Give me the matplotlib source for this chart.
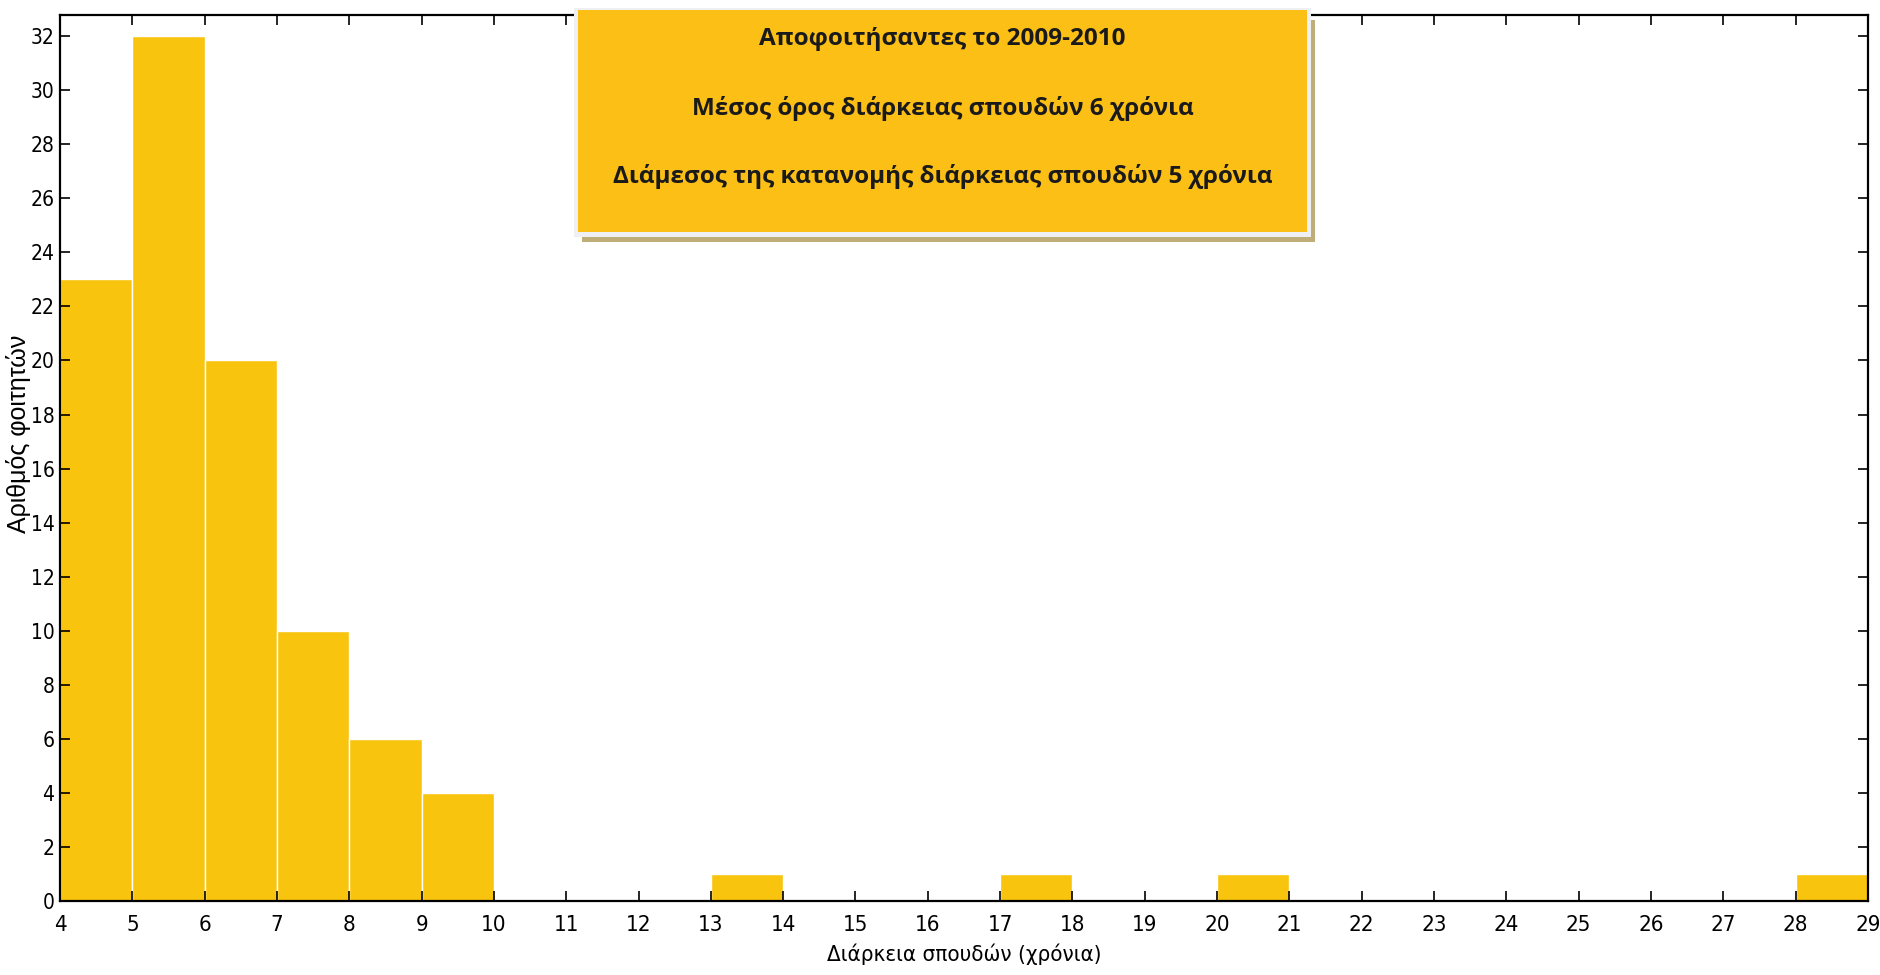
#!/usr/bin/env python3
import matplotlib
matplotlib.use("Agg")
import matplotlib.pyplot as plt
from matplotlib.patches import Rectangle
from matplotlib import font_manager

# histogram bins (left edge, year) and counts of students
bin_starts = [4, 5, 6, 7, 8, 9, 13, 17, 20, 28]
counts = [23, 32, 20, 10, 6, 4, 1, 1, 1, 1]

x_ticks = list(range(4, 30))
y_ticks = list(range(0, 33, 2))

box_lines = [
    "Αποφοιτήσαντες το 2009-2010",
    "Μέσος όρος διάρκειας σπουδών 6 χρόνια",
    "Διάμεσος της κατανομής διάρκειας σπουδών 5 χρόνια",
]
xlabel = "Διάρκεια σπουδών (χρόνια)"
ylabel = "Αριθμός φοιτητών"

bar_color = "#F9C40D"
box_color = "#FBBF16"

# condensed face for the tick labels
cond = font_manager.FontProperties(family="DejaVu Sans", stretch="condensed", size=16)
ycond = font_manager.FontProperties(family="DejaVu Sans", stretch="condensed", size=15)


def main():
    fig = plt.figure(figsize=(18.81, 9.75), dpi=100)
    ax = fig.add_axes([0.0319, 0.076, 0.9611, 0.909])

    ax.bar(bin_starts, counts, width=1, align="edge", color=bar_color,
           edgecolor="white", linewidth=1.0)

    ax.set_xlim(4, 29)
    ax.set_ylim(0, 32.8)
    ax.set_xticks(x_ticks)
    ax.set_yticks(y_ticks)
    ax.tick_params(direction="in", length=7, width=1.2, top=True, right=True)
    ax.tick_params(axis="x", pad=10)
    ax.tick_params(axis="y", pad=4)
    for lab in ax.get_xticklabels():
        lab.set_fontproperties(cond)
    for lab in ax.get_yticklabels():
        lab.set_fontproperties(ycond)
    for sp in ax.spines.values():
        sp.set_linewidth(1.6)

    ax.set_xlabel(xlabel, fontproperties=cond, labelpad=6)
    ax.set_ylabel(ylabel, fontsize=18, family="Liberation Sans")
    ax.yaxis.set_label_coords(-0.0158, 0.527)

    # annotation box: shadow, light border, orange panel
    bx, by, bw, bh = 0.3073, 0.762, 0.3876, 0.2277
    fig.patches.append(Rectangle((bx + 0.002, by - 0.010), bw + 0.002, bh,
                                 transform=fig.transFigure, facecolor="#BFAE78",
                                 edgecolor="none", zorder=5))
    fig.patches.append(Rectangle((bx - 0.002, by - 0.005), bw + 0.004, bh + 0.007,
                                 transform=fig.transFigure, facecolor="#EEF0F3",
                                 edgecolor="none", zorder=6))
    fig.patches.append(Rectangle((bx, by), bw, bh, transform=fig.transFigure,
                                 facecolor=box_color, edgecolor="none", zorder=7))
    ys = [0.960, 0.889, 0.819]
    for txt, yy in zip(box_lines, ys):
        fig.text(bx + bw / 2, yy, txt, ha="center", va="center", fontsize=17.5,
                 fontweight="bold", family="Open Sans", color="#1a1a1a", zorder=8)

    fig.savefig("out.png", dpi=100)


if __name__ == "__main__":
    main()
